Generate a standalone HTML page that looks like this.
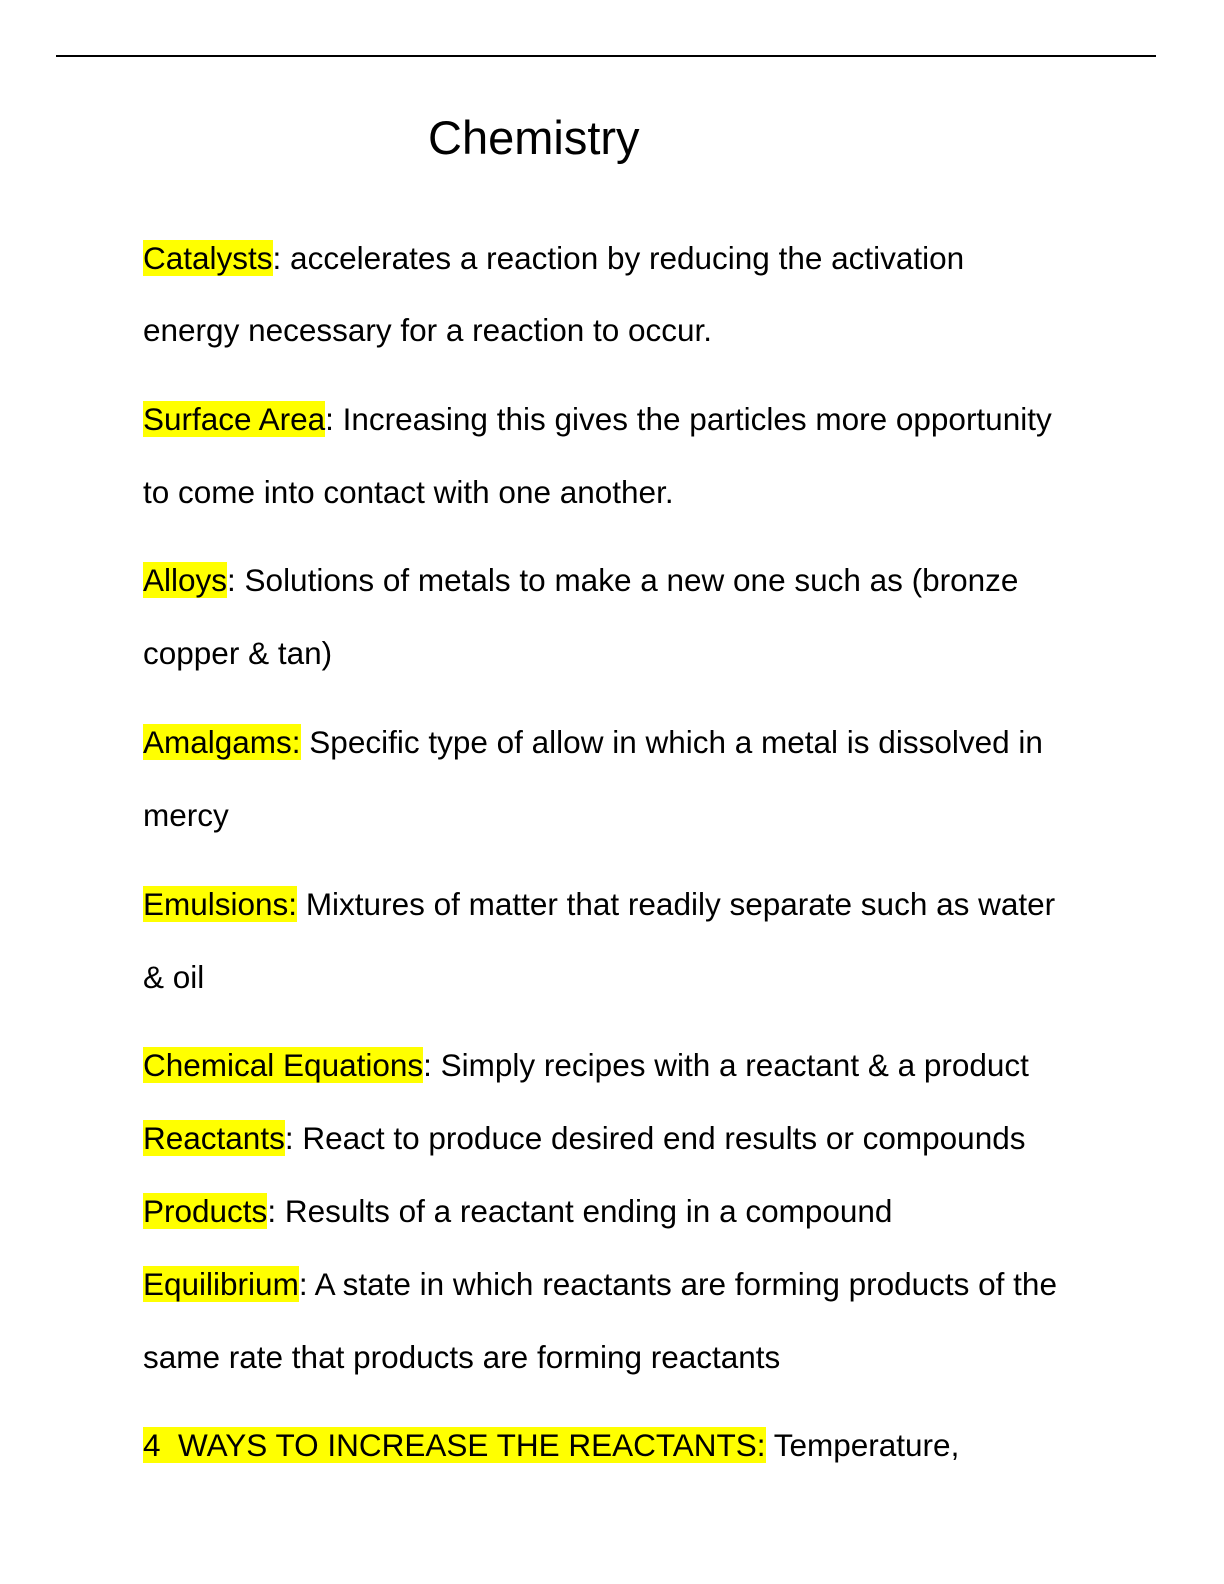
<!DOCTYPE html>
<html><head><meta charset="utf-8"><style>
html,body{margin:0;padding:0;background:#fff;}
body{width:1224px;height:1584px;position:relative;overflow:hidden;font-family:"Liberation Sans",Arial,sans-serif;color:#000;}
.rule{position:absolute;left:56px;top:55px;width:1100px;height:2px;background:#000;}
.t{position:absolute;left:428px;top:110px;font-size:47px;line-height:56px;white-space:nowrap;}
.l{position:absolute;left:143px;font-size:31.5px;line-height:34px;height:34px;white-space:nowrap;}
.h{background:#ffff00;}
</style></head><body>
<div class="rule"></div>
<div class="t">Chemistry</div>
<div class="l" style="top:241px"><span class="h">Catalysts</span>: accelerates a reaction by reducing the activation</div>
<div class="l" style="top:313px">energy necessary for a reaction to occur.</div>
<div class="l" style="top:402px"><span class="h">Surface Area</span>: Increasing this gives the particles more opportunity</div>
<div class="l" style="top:475px">to come into contact with one another.</div>
<div class="l" style="top:563px"><span class="h">Alloys</span>: Solutions of metals to make a new one such as (bronze</div>
<div class="l" style="top:636px">copper &amp; tan)</div>
<div class="l" style="top:725px"><span class="h">Amalgams:</span> Specific type of allow in which a metal is dissolved in</div>
<div class="l" style="top:798px">mercy</div>
<div class="l" style="top:887px"><span class="h">Emulsions:</span> Mixtures of matter that readily separate such as water</div>
<div class="l" style="top:960px">&amp; oil</div>
<div class="l" style="top:1048px"><span class="h">Chemical Equations</span>: Simply recipes with a reactant &amp; a product</div>
<div class="l" style="top:1121px"><span class="h">Reactants</span>: React to produce desired end results or compounds</div>
<div class="l" style="top:1194px"><span class="h">Products</span>: Results of a reactant ending in a compound</div>
<div class="l" style="top:1267px"><span class="h">Equilibrium</span>: A state in which reactants are forming products of the</div>
<div class="l" style="top:1340px">same rate that products are forming reactants</div>
<div class="l" style="top:1428px"><span class="h">4&nbsp; WAYS TO INCREASE THE REACTANTS:</span> Temperature,</div>
</body></html>
